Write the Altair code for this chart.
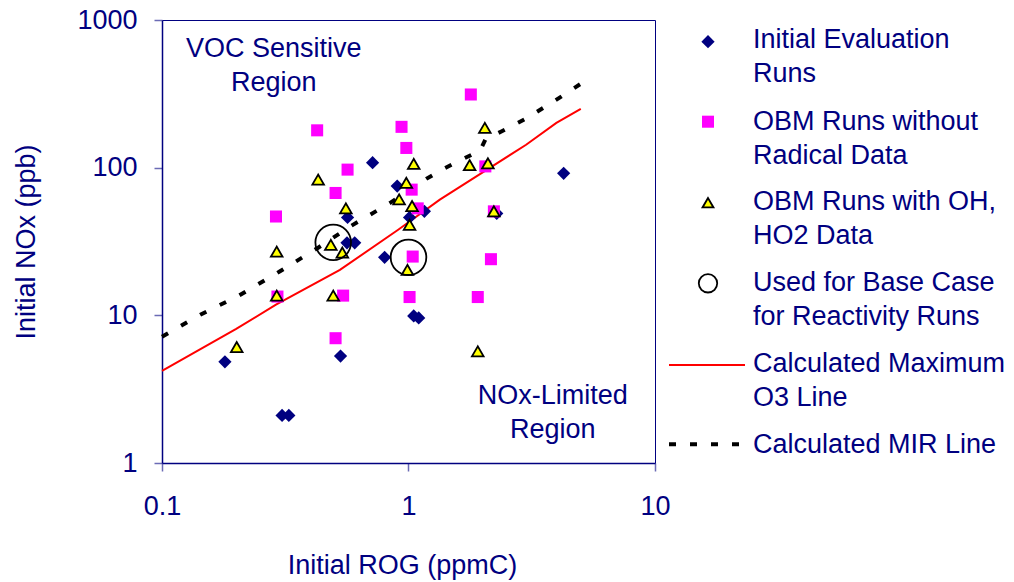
import altair as alt
import pandas as pd

NAVY = "#000080"
FONT = "Liberation Sans"
FS = 27

# Initial Evaluation Runs (diamonds)
eval_x = [0.715, 0.90, 0.566, 0.563, 0.605, 0.80, 1.01, 1.16, 2.28, 4.26, 1.05, 1.10, 0.53, 0.18, 0.307, 0.327]
eval_y = [108, 75, 46, 31, 31, 24.7, 46, 50.6, 49, 91.5, 9.9, 9.6, 5.3, 4.84, 2.1, 2.1]

# OBM Runs without Radical Data (squares)
obm_x = [0.426, 0.937, 0.98, 0.566, 0.506, 0.29, 1.79, 1.03, 1.09, 2.05, 2.22, 1.04, 0.294, 0.543, 2.16, 1.01, 1.91, 0.506]
obm_y = [179, 189, 136, 97, 67.4, 46.7, 313, 71, 53, 102, 50.6, 25, 13.4, 13.6, 24, 13.3, 13.3, 7.0]

# OBM Runs with OH, HO2 Data (triangles)
rad_x = [0.43, 1.05, 0.98, 0.916, 1.034, 1.01, 0.557, 0.484, 0.539, 0.99, 2.04, 1.77, 2.10, 2.22, 0.292, 0.292, 0.495, 0.201, 1.91]
rad_y = [83, 106, 79, 61, 55, 41, 53, 30, 26.6, 20.3, 186, 104, 107, 50.6, 27, 13.6, 13.6, 6.1, 5.7]

# Used for Base Case for Reactivity Runs (open circles)
base_x = [0.495, 1.0]
base_y = [31.2, 24.7]

# Calculated Maximum O3 Line
maxo3_x = [0.1, 0.2, 0.29, 0.527, 0.908, 1.34, 2.0, 3.0, 3.98, 5.0]
maxo3_y = [4.2, 8.1, 11.8, 20.3, 38, 60.7, 93, 143, 201, 250]

# Calculated MIR Line
mir_x = [0.1, 0.143, 0.205, 0.3, 0.43, 0.58, 0.84, 1.18, 1.4, 1.69, 1.95, 2.05, 2.38, 3.0, 4.0, 5.0]
mir_y = [7.15, 10.1, 13.6, 19.8, 28.7, 40, 57.6, 84, 99, 116, 130, 155, 176, 215, 290, 370]

# Region annotations
region_labels = [["VOC Sensitive", "Region"], ["NOx-Limited", "Region"]]
region_x = [0.284, 3.85]
region_y = [565, 2.51]

# Legend
legend_labels = [
    ["Initial Evaluation", "Runs"],
    ["OBM Runs without", "Radical Data"],
    ["OBM Runs with OH,", "HO2 Data"],
    ["Used for Base Case", "for Reactivity Runs"],
    ["Calculated Maximum", "O3 Line"],
    ["Calculated MIR Line"],
]

x_scale = alt.Scale(type="log", domain=[0.1, 10], nice=False)
y_scale = alt.Scale(type="log", domain=[1, 1000], nice=False)

x_axis = alt.Axis(
    title="Initial ROG (ppmC)", values=[0.1, 1, 10], format="~g", grid=False,
    labelOverlap=False, labelFlush=False, labelPadding=22, tickSize=8,
    titleY=110, titleX=240, titleBaseline="alphabetic", titleAlign="center",
)
y_axis = alt.Axis(
    title="Initial NOx (ppb)", values=[1, 10, 100, 1000], format="~g", grid=False,
    labelOverlap=False, labelFlush=False, labelPadding=17, tickSize=8,
    titleX=-127.5, titleY=221.5, titleAngle=270, titleBaseline="alphabetic", titleAlign="center",
)


def enc():
    return dict(
        x=alt.X("x:Q", scale=x_scale, axis=x_axis),
        y=alt.Y("y:Q", scale=y_scale, axis=y_axis),
    )


def df(xs, ys):
    return pd.DataFrame({"x": xs, "y": ys})


DIA = 175
SQ = 145
TRI = 135

red_line = alt.Chart(df(maxo3_x, maxo3_y)).mark_line(color="#FF0000", strokeWidth=2).encode(**enc())
mir_line = alt.Chart(df(mir_x, mir_y)).mark_line(
    color="black", strokeWidth=4, strokeDash=[7, 15]).encode(**enc())

diamonds = alt.Chart(df(eval_x, eval_y)).mark_point(
    shape="diamond", filled=True, color=NAVY, size=DIA, opacity=1).encode(**enc())
squares = alt.Chart(df(obm_x, obm_y)).mark_point(
    shape="square", filled=True, color="#FF00FF", size=SQ, opacity=1).encode(**enc())
triangles = alt.Chart(df(rad_x, rad_y)).mark_point(
    shape="triangle-up", filled=True, fill="#FFFF00", stroke="black", strokeWidth=1.8,
    size=TRI, opacity=1).encode(**enc())
circles = alt.Chart(df(base_x, base_y)).mark_point(
    shape="circle", filled=False, stroke="black", strokeWidth=1.8, size=1270, opacity=1).encode(**enc())

region_df = pd.DataFrame({"x": region_x, "y": region_y, "t": region_labels})
regions = alt.Chart(region_df).mark_text(
    font=FONT, fontSize=FS, color=NAVY, align="center", baseline="alphabetic", lineHeight=34
).encode(text="t", **enc())

# Legend (pixel positions relative to the plot area)
sym_x = 546
label_x = 591
label_base = [28.3, 110, 190, 270.7, 352.3, 433.3]
sym_y = [21.7, 101.7, 182.7, 263.3, 345, 424.3]

legend_layers = []
for lab, yb in zip(legend_labels, label_base):
    legend_layers.append(
        alt.Chart().mark_text(
            text=lab, font=FONT, fontSize=FS, color=NAVY, align="left",
            baseline="alphabetic", lineHeight=34,
        ).encode(x=alt.value(label_x), y=alt.value(yb))
    )
legend_layers += [
    alt.Chart().mark_point(shape="diamond", filled=True, color=NAVY, size=DIA, opacity=1)
    .encode(x=alt.value(sym_x), y=alt.value(sym_y[0])),
    alt.Chart().mark_point(shape="square", filled=True, color="#FF00FF", size=SQ, opacity=1)
    .encode(x=alt.value(sym_x), y=alt.value(sym_y[1])),
    alt.Chart().mark_point(shape="triangle-up", filled=True, fill="#FFFF00", stroke="black",
                           strokeWidth=1.8, size=120, opacity=1)
    .encode(x=alt.value(sym_x), y=alt.value(sym_y[2])),
    alt.Chart().mark_point(shape="circle", filled=False, stroke="black", strokeWidth=1.8,
                           size=340, opacity=1)
    .encode(x=alt.value(sym_x), y=alt.value(sym_y[3])),
    alt.Chart().mark_rule(color="#FF0000", strokeWidth=2)
    .encode(x=alt.value(507), x2=alt.value(583), y=alt.value(sym_y[4])),
    alt.Chart().mark_rule(color="black", strokeWidth=4, strokeDash=[7, 14])
    .encode(x=alt.value(507), x2=alt.value(578), y=alt.value(sym_y[5])),
]

chart = alt.layer(
    red_line, mir_line, diamonds, squares, triangles, circles, regions, *legend_layers
).properties(
    width=493, height=443,
    autosize=alt.AutoSizeParams(type="none"),
    padding={"left": 162, "top": 20, "right": 359, "bottom": 119},
    background="white",
).configure_view(
    stroke=NAVY, strokeWidth=1
).configure_axis(
    domainColor=NAVY, domainWidth=1.5, tickColor="#6b6bb5", tickWidth=1.5,
    labelColor=NAVY, labelFont=FONT, labelFontSize=FS,
    titleColor=NAVY, titleFont=FONT, titleFontSize=FS, titleFontWeight="normal",
)

chart.save("out.html", embed_options={"renderer": "svg", "actions": False})
